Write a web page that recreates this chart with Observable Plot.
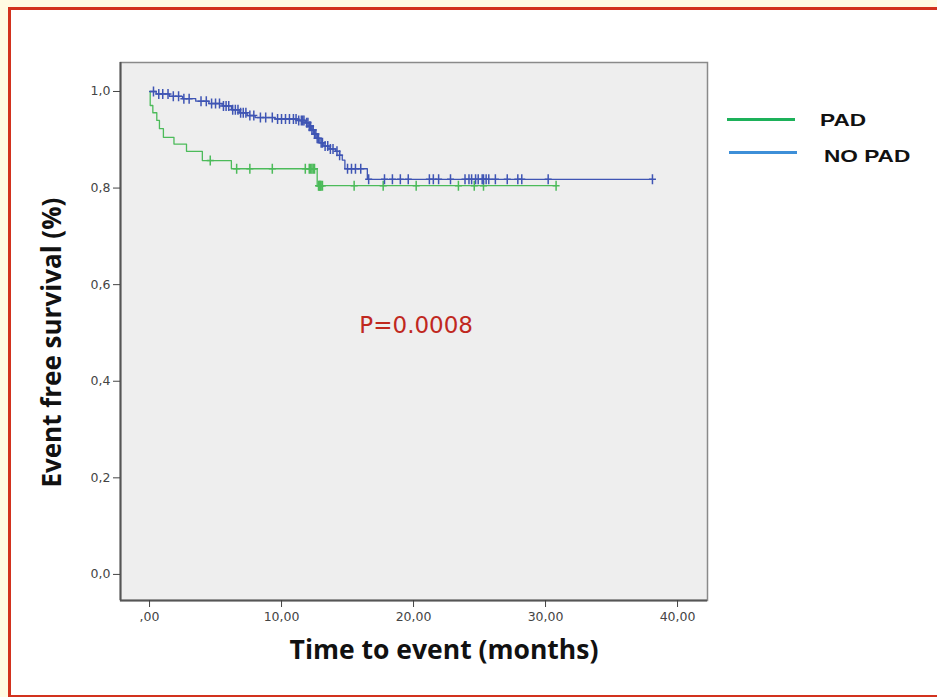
<!DOCTYPE html>
<html><head><meta charset="utf-8">
<script src="https://cdn.jsdelivr.net/npm/d3@7"></script>
<script src="https://cdn.jsdelivr.net/npm/@observablehq/plot@0.6"></script>
<style>
html,body{margin:0;padding:0;background:#fffbe3;}
#wrap{position:relative;width:937px;height:697px;overflow:hidden;background:#fffbe3;}
#box{position:absolute;left:8px;top:7px;width:1000px;height:685px;border:3px solid #d2321e;background:#fff;}
#chart{position:absolute;left:0;top:0;}
.legline{position:absolute;height:3px;}
.legtext{position:absolute;font-family:"Liberation Sans",Arial,sans-serif;font-weight:bold;font-size:17px;color:#111;transform:scaleX(1.33);transform-origin:left center;line-height:20px;white-space:nowrap;}
</style></head>
<body>
<div id="wrap">
  <div id="box"></div>
  <div id="chart"></div>
  <div class="legline" style="left:727px;top:118px;width:68px;background:#1db15a;"></div>
  <div class="legtext" style="left:820px;top:111px;">PAD</div>
  <div class="legline" style="left:729px;top:151px;width:68px;background:#3d8fd8;height:2.5px;"></div>
  <div class="legtext" style="left:824px;top:147px;">NO PAD</div>
</div>
<script>
// ---- data ----
const groups = ["PAD", "NO PAD"];
// PAD: event times (months) and survival after each event
const padTimes = [0, 0.05, 0.25, 0.55, 0.75, 1.05, 1.85, 2.8, 4.0, 6.2, 12.7];
const padSurv  = [1.0, 0.971, 0.956, 0.940, 0.923, 0.905, 0.891, 0.876, 0.857, 0.840, 0.805];
const padEnd = 30.8;
const padCensored = [4.6, 6.6, 7.6, 9.3, 11.8, 12.1, 12.2, 12.3, 12.4, 12.5, 12.8, 12.85, 12.9, 12.95, 13.0, 13.1, 15.5, 17.7, 20.2, 23.4, 24.6, 25.3, 30.8];
// NO PAD
const noPadTimes = [0, 0.5, 1.5, 2.5, 3.5, 4.5, 5.5, 6.2, 6.8, 7.4, 8.0, 9.5, 11.3, 11.8, 12.1, 12.3, 12.5, 12.7, 12.9, 13.2, 13.6, 14.1, 14.4, 14.6, 14.8, 16.5];
const noPadSurv  = [1.0, 0.995, 0.99, 0.985, 0.98, 0.975, 0.97, 0.962, 0.956, 0.95, 0.946, 0.943, 0.94, 0.935, 0.928, 0.92, 0.912, 0.903, 0.894, 0.887, 0.881, 0.876, 0.868, 0.858, 0.84, 0.818];
const noPadEnd = 38.1;
const noPadCensored = [0.3, 0.7, 1.0, 1.4, 1.8, 2.2, 2.6, 3.0, 3.9, 4.3, 4.7, 5.0, 5.3, 5.6, 5.8, 6.0, 6.3, 6.5, 6.7, 6.9, 7.1, 7.3, 7.6, 7.9, 8.4, 8.8, 9.3, 9.7, 10.0, 10.3, 10.6, 10.9, 11.1, 11.3, 11.5, 11.6, 11.7, 11.9, 12.0, 12.1, 12.2, 12.3, 12.4, 12.5, 12.6, 12.7, 12.8, 13.0, 13.1, 13.3, 13.5, 13.7, 13.9, 14.2, 14.4, 15.0, 15.3, 15.6, 16.0, 16.6, 17.8, 18.4, 19.0, 19.6, 21.2, 21.5, 21.9, 22.8, 23.9, 24.2, 24.4, 24.7, 24.9, 25.2, 25.3, 25.5, 25.7, 26.2, 27.1, 27.9, 28.2, 30.2, 38.1];
const xTicks = [0, 10, 20, 30, 40];
const xTickLabels = [",00", "10,00", "20,00", "30,00", "40,00"];
const yTicks = [0, 0.2, 0.4, 0.6, 0.8, 1.0];
const yTickLabels = ["0,0", "0,2", "0,4", "0,6", "0,8", "1,0"];
const pLabel = "P=0.0008";
const xTitle = "Time to event (months)";
const yTitle = "Event free survival (%)";

// ---- build tables ----
function steps(times, surv, end, g) {
  const rows = times.map((t, i) => ({t, s: surv[i], g}));
  rows.push({t: end, s: surv[surv.length - 1], g});
  return rows;
}
function survAt(times, surv, t) {
  let s = surv[0];
  for (let i = 0; i < times.length; i++) if (times[i] <= t) s = surv[i];
  return s;
}
const lines = [...steps(padTimes, padSurv, padEnd, groups[0]), ...steps(noPadTimes, noPadSurv, noPadEnd, groups[1])];
const cens = [
  ...padCensored.map(t => ({t, s: survAt(padTimes, padSurv, t), g: groups[0]})),
  ...noPadCensored.map(t => ({t, s: survAt(noPadTimes, noPadSurv, t), g: groups[1]}))
];
const plusSymbol = {
  draw(ctx, size) {
    const r = Math.sqrt(size / Math.PI);
    ctx.moveTo(-r * 0.7, 0); ctx.lineTo(r * 0.7, 0);
    ctx.moveTo(0, -r); ctx.lineTo(0, r);
  }
};
const colorScale = {domain: groups, range: ["#4cbb5a", "#3f55b4"]};
const xDom = [-2.2, 42.27];
const yDom = [-0.054, 1.06];

const chart = Plot.plot({
  width: 937, height: 697,
  marginLeft: 120, marginRight: 230, marginTop: 62, marginBottom: 97,
  x: {domain: xDom},
  y: {domain: yDom},
  color: colorScale,
  style: {fontFamily: "DejaVu Sans", fontSize: "12.5px", background: "transparent", overflow: "visible"},
  marks: [
    Plot.frame({fill: "#eeeeee", stroke: "#8a8a8a", strokeWidth: 1.5}),
    Plot.ruleX([xDom[0]], {stroke: "#555", strokeWidth: 2}),
    Plot.ruleY([yDom[0]], {stroke: "#555", strokeWidth: 2}),
    Plot.line(lines, {x: "t", y: "s", z: "g", stroke: "g", curve: "step-after", strokeWidth: 1.3}),
    Plot.dot(cens, {x: "t", y: "s", stroke: "g", symbol: plusSymbol, r: 5, strokeWidth: 1.5}),
    Plot.axisY({ticks: yTicks, tickFormat: (d, i) => yTickLabels[i], tickSize: 7, tickPadding: 3, stroke: "#444", fill: "#444", label: null}),
    Plot.axisX({ticks: xTicks, tickFormat: (d, i) => xTickLabels[i], tickSize: 7, tickPadding: 5, stroke: "#444", fill: "#444", label: null}),
    Plot.text([yTitle], {x: -7.35, y: 0.48, rotate: -90, fontSize: 26, fontWeight: "bold", fontFamily: "Open Sans", fill: "#111"}),
    Plot.text([xTitle], {frameAnchor: "bottom", dx: 30, dy: 58, fontSize: 26.5, fontWeight: "bold", fontFamily: "Open Sans", fill: "#111"}),
    Plot.text([pLabel], {x: 20.2, y: 0.515, fontSize: 23, fontFamily: "DejaVu Sans", fill: "#c0281e"})
  ]
});
document.getElementById("chart").appendChild(chart);
</script>
</body></html>
